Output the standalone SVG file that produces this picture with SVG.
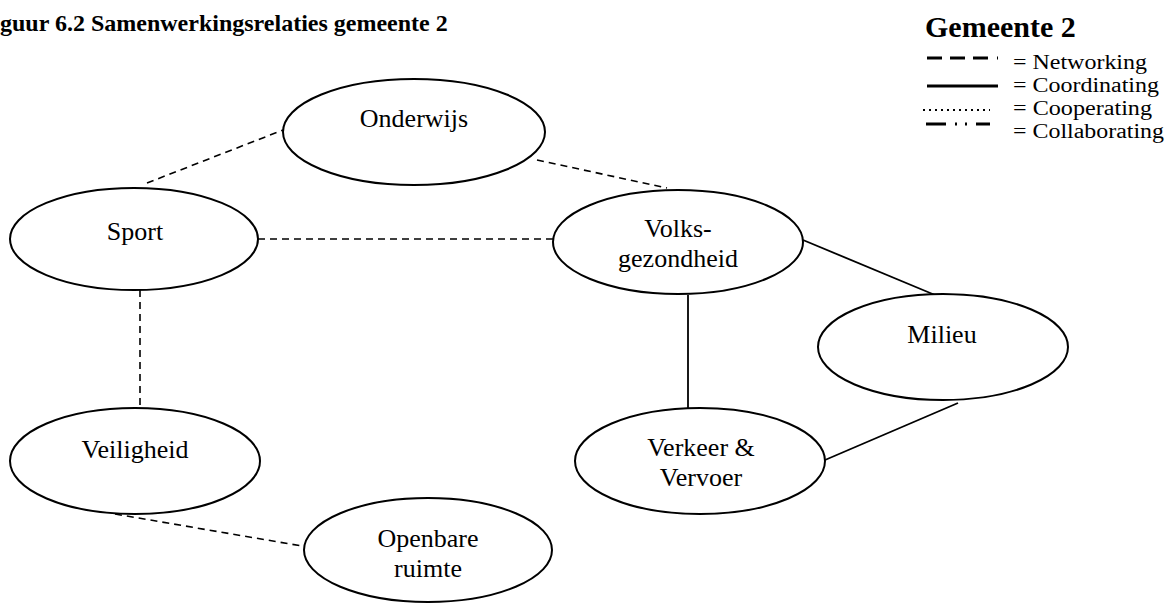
<svg xmlns="http://www.w3.org/2000/svg" width="1171" height="606" viewBox="0 0 1171 606">
<style>
.bg{fill:#fff}
.node{fill:#fff;stroke:#000;stroke-width:2}
.lbl{font-family:"Liberation Serif","Times New Roman",serif;font-size:26px;fill:#000;text-anchor:middle}
.title{font-family:"Liberation Serif","Times New Roman",serif;font-weight:bold;fill:#000}
.leg{font-family:"Liberation Serif","Times New Roman",serif;font-size:20px;fill:#000}
.net{stroke:#000;stroke-width:1.6;stroke-dasharray:7 5;fill:none}
.coord{stroke:#000;stroke-width:1.8;fill:none}
</style>
<rect class="bg" x="0" y="0" width="1171" height="606"/>
<text class="title" x="0" y="31" font-size="24">guur 6.2 Samenwerkingsrelaties gemeente 2</text>
<g id="legend">
<text class="title" x="925" y="37" font-size="30">Gemeente 2</text>
<line x1="927" y1="58" x2="998" y2="58" stroke="#000" stroke-width="3" stroke-dasharray="15 8 15 8 15 9 2 100"/>
<text class="leg" x="1013" y="69" textLength="134" lengthAdjust="spacingAndGlyphs">= Networking</text>
<line x1="927" y1="86" x2="998" y2="86" stroke="#000" stroke-width="3"/>
<text class="leg" x="1013" y="92" textLength="146" lengthAdjust="spacingAndGlyphs">= Coordinating</text>
<line x1="923" y1="110" x2="990" y2="110" stroke="#000" stroke-width="2" stroke-dasharray="2 4"/>
<text class="leg" x="1013" y="115" textLength="139" lengthAdjust="spacingAndGlyphs">= Cooperating</text>
<line x1="926" y1="124" x2="992" y2="124" stroke="#000" stroke-width="3" stroke-dasharray="20 9 2 8 2 9 14 100"/>
<text class="leg" x="1013" y="138" textLength="151" lengthAdjust="spacingAndGlyphs">= Collaborating</text>
</g>
<g id="connectors">
<line class="net" x1="147" y1="183" x2="283" y2="130"/>
<line class="net" x1="537" y1="160" x2="667" y2="188"/>
<line class="net" x1="258" y1="239" x2="554" y2="239"/>
<line class="net" x1="140" y1="290" x2="140" y2="408"/>
<line class="net" x1="115" y1="514" x2="302" y2="546"/>
<line class="coord" x1="803" y1="240" x2="935" y2="295"/>
<line class="coord" x1="688" y1="295" x2="688" y2="408"/>
<line class="coord" x1="825" y1="460" x2="958" y2="403"/>
</g>
<g id="onderwijs">
<ellipse class="node" cx="414" cy="132" rx="131" ry="53"/>
<text class="lbl" x="414" y="127">Onderwijs</text>
</g>
<g id="sport">
<ellipse class="node" cx="134" cy="239" rx="124" ry="51"/>
<text class="lbl" x="135" y="240">Sport</text>
</g>
<g id="volksgezondheid">
<ellipse class="node" cx="678" cy="242" rx="125" ry="52"/>
<text class="lbl" x="678" y="237">Volks-</text>
<text class="lbl" x="678" y="267">gezondheid</text>
</g>
<g id="milieu">
<ellipse class="node" cx="943" cy="347" rx="125" ry="53"/>
<text class="lbl" x="942" y="343">Milieu</text>
</g>
<g id="verkeer">
<ellipse class="node" cx="700" cy="461" rx="125" ry="53"/>
<text class="lbl" x="701" y="456">Verkeer &amp;</text>
<text class="lbl" x="701" y="486">Vervoer</text>
</g>
<g id="veiligheid">
<ellipse class="node" cx="135" cy="461" rx="125" ry="53"/>
<text class="lbl" x="135" y="458">Veiligheid</text>
</g>
<g id="openbare">
<ellipse class="node" cx="428" cy="550" rx="124" ry="52"/>
<text class="lbl" x="428" y="547">Openbare</text>
<text class="lbl" x="428" y="577">ruimte</text>
</g>
</svg>
